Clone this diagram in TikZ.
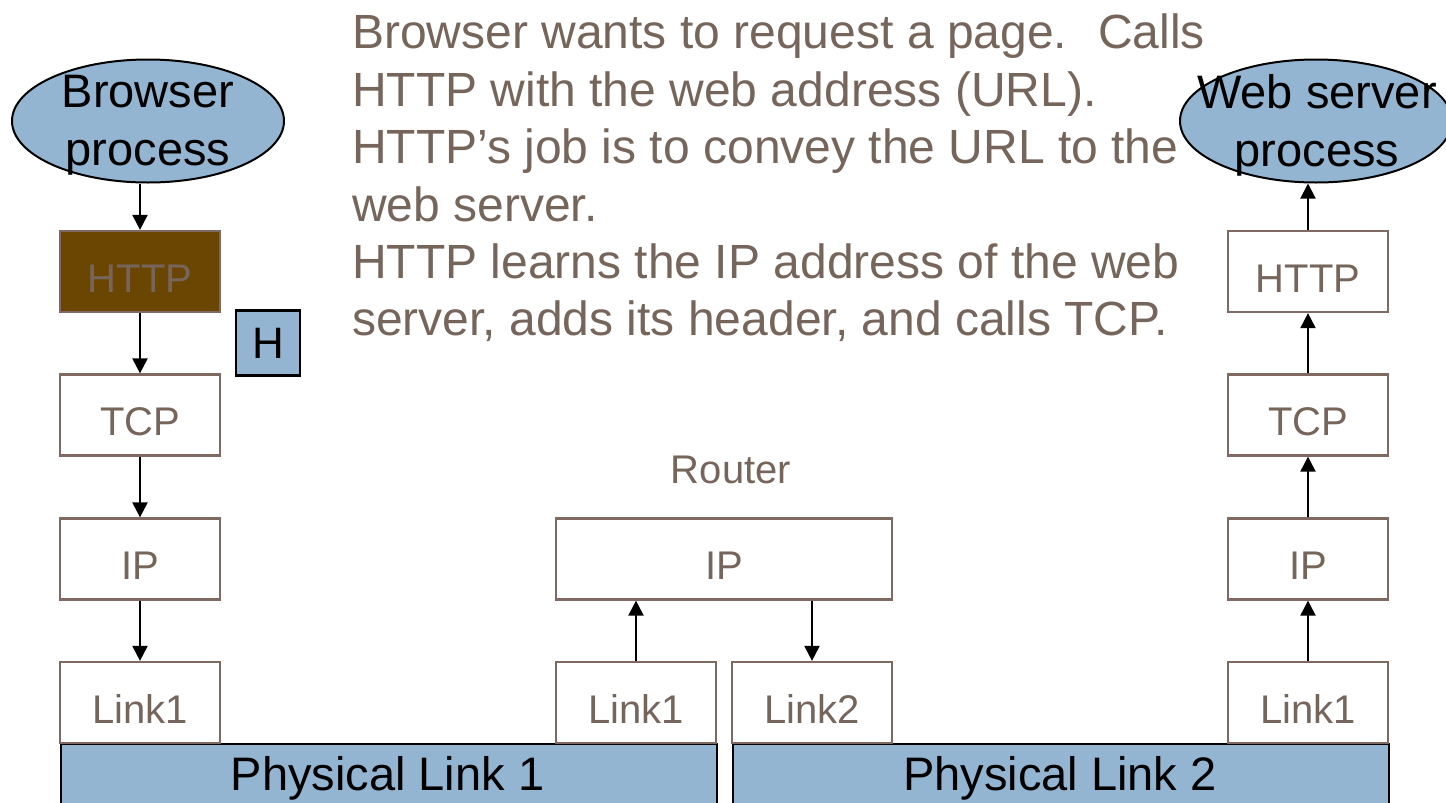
\documentclass[tikz,border=0pt]{standalone}
\usepackage{fontspec}
\setmainfont{Liberation Sans}
\usetikzlibrary{arrows.meta,shapes.geometric}
\definecolor{txtbrown}{HTML}{76655B}
\definecolor{edgebrown}{HTML}{7E6A60}
\definecolor{layerblue}{HTML}{94B5D2}
\definecolor{activebrown}{HTML}{6B4502}
\tikzset{
  layer/.style={draw=edgebrown, line width=2.2pt, fill=white, minimum width=160pt,
    minimum height=81pt, inner sep=0pt, text height=44pt, text depth=3pt,
    text=txtbrown, font=\fontsize{40}{48}\selectfont},
  proc/.style={ellipse, draw=black, line width=2pt, fill=layerblue, inner sep=0pt,
    minimum width=272pt, minimum height=123pt},
  proctext/.style={inner sep=0pt, align=center, font=\fontsize{47}{58}\selectfont},
  wire/.style={draw=black, line width=2pt, fill=layerblue, inner sep=0pt,
    minimum width=656pt, minimum height=64pt, anchor=north west},
  wiretext/.style={font=\fontsize{47}{56}\selectfont},
  flow/.style={line width=2pt, -{Triangle[length=15pt,width=15pt]}},
}
\begin{document}
\begin{tikzpicture}[x=1pt,y=-1pt]
\useasboundingbox (0,0) rectangle (1446,803);

% physical media
\node[wire] (phy1) at (60,743) {};
\node[wiretext] (phy1t) at (387.5,778) {Physical Link 1};
\node[wire] (phy2) at (732,743) {};
\node[wiretext] (phy2t) at (1060,778) {Physical Link 2};

% browser host stack
\node[proc] (bp) at (148,121) {};
\node[proctext] (bpt) at (148,125) {Browser\\process};
\node[layer, fill=activebrown] (h1) at (140,271.5) {HTTP};
\node[draw=black, line width=2.2pt, fill=layerblue, minimum width=64pt, minimum height=65pt,
  inner sep=0pt, font=\fontsize{44}{52}\selectfont] (hdr) at (268,343) {H};
\node[layer] (t1) at (140,415) {TCP};
\node[layer] (i1) at (140,559) {IP};
\node[layer] (l1) at (140,702.5) {Link1};

% router
\node[text=txtbrown, font=\fontsize{40}{48}\selectfont] (rt) at (731,470) {Router};
\node[layer, minimum width=336pt] (ri) at (724,559) {IP};
\node[layer] (rl1) at (636,702.5) {Link1};
\node[layer] (rl2) at (812,702.5) {Link2};

% web server stack
\node[proc] (wp) at (1316,121) {};
\node[proctext] (wpt) at (1317,125) {Web server\\process};
\node[layer] (h2) at (1308,271.5) {HTTP};
\node[layer] (t2) at (1308,415) {TCP};
\node[layer] (i2) at (1308,559) {IP};
\node[layer] (l2) at (1308,702.5) {Link1};

% downward path in the browser host
\draw[flow] (bp.south -| h1.north) -- (h1.north);
\draw[flow] (h1) -- (t1);
\draw[flow] (t1) -- (i1);
\draw[flow] (i1) -- (l1);

% through the router
\draw[flow] (rl1.north) -- (rl1.north |- ri.south);
\draw[flow] (rl2.north |- ri.south) -- (rl2.north);

% upward path in the server
\draw[flow] (l2) -- (i2);
\draw[flow] (i2) -- (t2);
\draw[flow] (t2) -- (h2);
\draw[flow] (h2.north) -- (h2.north |- wp.south);

% explanation
\node[anchor=north west, inner sep=0pt, align=left, text=txtbrown,
  font=\fontsize{48}{57.4}\selectfont] (note) at (352,14) {Browser wants to request a page.~ Calls\\
HTTP with the web address (URL).\\
HTTP’s job is to convey the URL to the\\
web server.\\
HTTP learns the IP address of the web\\
server, adds its header, and calls TCP.};
\end{tikzpicture}
\end{document}
